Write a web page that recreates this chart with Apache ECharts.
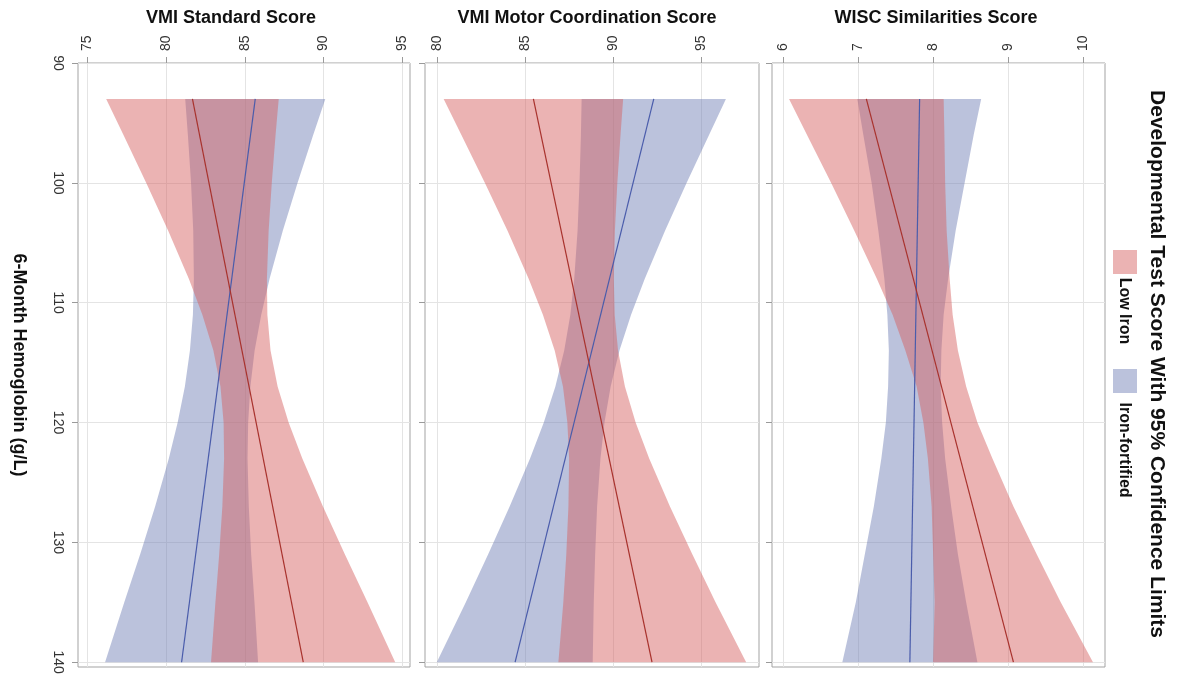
<!DOCTYPE html>
<html>
<head>
<meta charset="utf-8">
<script src="https://cdn.jsdelivr.net/npm/echarts@6/dist/echarts.min.js"></script>
<style>html,body{margin:0;padding:0;background:#fff}#c{width:1180px;height:675px}</style>
</head>
<body>
<div id="c"></div>
<script>
// ---------- data ----------
const hemoglobin = [93, 96, 100, 104, 108, 111, 114, 117, 120, 123, 127, 131, 135, 140];
const fitHb = [93, 140];
const hbTicks = [90, 100, 110, 120, 130, 140];
const panelTitles = ['VMI Standard Score', 'VMI Motor Coordination Score', 'WISC Similarities Score'];
const scoreTicks = [[75, 80, 85, 90, 95], [80, 85, 90, 95], [6, 7, 8, 9, 10]];
const groups = ['Low Iron', 'Iron-fortified'];
const legendTitle = 'Developmental Test Score With 95% Confidence Limits';
const hbAxisTitle = '6-Month Hemoglobin (g/L)';

// VMI Standard Score
const vmiStdLowLower  = [76.19, 77.29, 78.73, 80.13, 81.44, 82.30, 83.00, 83.45, 83.65, 83.68, 83.57, 83.37, 83.13, 82.85];
const vmiStdLowUpper  = [87.15, 86.95, 86.71, 86.51, 86.40, 86.43, 86.63, 87.08, 87.78, 88.65, 89.96, 91.35, 92.79, 94.55];
const vmiStdFortLower = [81.21, 81.38, 81.58, 81.72, 81.76, 81.70, 81.51, 81.19, 80.73, 80.17, 79.30, 78.35, 77.34, 76.12];
const vmiStdFortUpper = [90.11, 89.34, 88.35, 87.41, 86.57, 86.04, 85.62, 85.35, 85.21, 85.17, 85.25, 85.40, 85.61, 85.84];
const vmiStdLowFit = [81.67, 88.71];
const vmiStdFortFit = [85.66, 80.98];

// VMI Motor Coordination Score
const vmiMotLowLower  = [80.36, 81.37, 82.70, 83.99, 85.19, 86.00, 86.67, 87.14, 87.39, 87.49, 87.45, 87.33, 87.16, 86.88];
const vmiMotLowUpper  = [90.56, 90.41, 90.23, 90.09, 90.03, 90.08, 90.27, 90.66, 91.27, 92.04, 93.22, 94.49, 95.81, 97.55];
const vmiMotFortLower = [88.20, 88.16, 88.08, 87.97, 87.78, 87.56, 87.21, 86.71, 86.05, 85.27, 84.11, 82.89, 81.62, 79.97];
const vmiMotFortUpper = [96.40, 95.44, 94.17, 92.94, 91.79, 91.01, 90.35, 89.85, 89.50, 89.27, 89.08, 88.97, 88.89, 88.83];
const vmiMotLowFit = [85.46, 92.20];
const vmiMotFortFit = [92.30, 84.42];

// WISC Similarities Score
const wiscLowLower  = [6.08, 6.32, 6.64, 6.95, 7.25, 7.46, 7.63, 7.78, 7.87, 7.93, 7.98, 8.00, 8.02, 8.00];
const wiscLowUpper  = [8.14, 8.15, 8.16, 8.18, 8.22, 8.26, 8.33, 8.44, 8.59, 8.79, 9.07, 9.38, 9.70, 10.13];
const wiscFortLower = [6.99, 7.07, 7.18, 7.27, 7.35, 7.39, 7.41, 7.40, 7.37, 7.31, 7.21, 7.09, 6.97, 6.79];
const wiscFortUpper = [8.64, 8.54, 8.42, 8.30, 8.20, 8.14, 8.11, 8.10, 8.12, 8.16, 8.24, 8.33, 8.44, 8.59];
const wiscLowFit = [7.11, 9.07];
const wiscFortFit = [7.82, 7.69];

// ---------- layout / style ----------
const FONT = '"Liberation Sans", Arial, sans-serif';
const lowFill = 'rgba(214,96,96,0.48)';
const fortFill = 'rgba(113,128,182,0.48)';
const lowLine = '#a8322d';
const fortLine = '#4a5cab';
const grids = [
  {left: 78, top: 63, width: 332, height: 604},
  {left: 425, top: 63, width: 334, height: 604},
  {left: 772, top: 63, width: 333, height: 604}
];
const xRange = [[74.4, 95.49], [79.3, 98.28], [5.853, 10.29]];
const titleX = [231, 587, 936];

const panels = [
  {low: [vmiStdLowLower, vmiStdLowUpper], fort: [vmiStdFortLower, vmiStdFortUpper], lowFit: vmiStdLowFit, fortFit: vmiStdFortFit},
  {low: [vmiMotLowLower, vmiMotLowUpper], fort: [vmiMotFortLower, vmiMotFortUpper], lowFit: vmiMotLowFit, fortFit: vmiMotFortFit},
  {low: [wiscLowLower, wiscLowUpper], fort: [wiscFortLower, wiscFortUpper], lowFit: wiscLowFit, fortFit: wiscFortFit}
];

function band(gi, lower, upper, fill, name, z) {
  return {
    type: 'custom', name: name, xAxisIndex: gi, yAxisIndex: gi, z: z, silent: true,
    data: hemoglobin.map((h, i) => [lower[i], h, upper[i]]),
    encode: {x: [0, 2], y: 1},
    renderItem: function (params, api) {
      if (params.dataIndex !== 0) return null;
      const pts = [];
      for (let i = 0; i < hemoglobin.length; i++) pts.push(api.coord([lower[i], hemoglobin[i]]));
      for (let i = hemoglobin.length - 1; i >= 0; i--) pts.push(api.coord([upper[i], hemoglobin[i]]));
      return {type: 'polygon', shape: {points: pts}, style: {fill: fill, stroke: null}};
    }
  };
}
function fitLine(gi, fit, color, name) {
  return {
    type: 'line', name: name, xAxisIndex: gi, yAxisIndex: gi, z: 5, silent: true,
    symbol: 'none', animation: false,
    data: fitHb.map((h, i) => [fit[i], h]),
    lineStyle: {color: color, width: 1.2}
  };
}

const series = [];
panels.forEach((p, gi) => {
  series.push(band(gi, p.fort[0], p.fort[1], fortFill, groups[1], 2));
  series.push(band(gi, p.low[0], p.low[1], lowFill, groups[0], 3));
  series.push(fitLine(gi, p.fortFit, fortLine, groups[1]));
  series.push(fitLine(gi, p.lowFit, lowLine, groups[0]));
});

const graphic = [];
panelTitles.forEach((t, i) => {
  graphic.push({type: 'text', x: titleX[i], y: 18, style: {text: t, fontFamily: FONT, fontSize: 18, fontWeight: 'bold', fill: '#111', align: 'center', verticalAlign: 'middle'}});
});
graphic.push({type: 'text', x: 1157, y: 364, rotation: -Math.PI / 2, style: {text: legendTitle, fontFamily: FONT, fontSize: 21, fontWeight: 'bold', fill: '#111', align: 'center', verticalAlign: 'middle'}});
graphic.push({type: 'rect', x: 1113, y: 250, shape: {width: 24, height: 24}, style: {fill: lowFill}});
graphic.push({type: 'text', x: 1124, y: 311, rotation: -Math.PI / 2, style: {text: groups[0], fontFamily: FONT, fontSize: 16, fontWeight: 'bold', fill: '#111', align: 'center', verticalAlign: 'middle'}});
graphic.push({type: 'rect', x: 1113, y: 369, shape: {width: 24, height: 24}, style: {fill: fortFill}});
graphic.push({type: 'text', x: 1124, y: 450, rotation: -Math.PI / 2, style: {text: groups[1], fontFamily: FONT, fontSize: 16, fontWeight: 'bold', fill: '#111', align: 'center', verticalAlign: 'middle'}});

const option = {
  animation: false,
  backgroundColor: '#fff',
  grid: grids.map(g => Object.assign({show: true, borderColor: '#a3a3a3', borderWidth: 1, backgroundColor: 'transparent', containLabel: false, outerBoundsMode: 'none'}, g)),
  xAxis: [0, 1, 2].map(i => ({
    gridIndex: i, type: 'value', position: 'top', min: xRange[i][0], max: xRange[i][1],
    axisLine: {show: false},
    axisTick: {show: true, length: 6, lineStyle: {color: '#9a9a9a'}, customValues: scoreTicks[i]},
    axisLabel: {rotate: -90, customValues: scoreTicks[i], fontFamily: FONT, fontSize: 14, color: '#333', margin: 12},
    splitLine: {show: true, lineStyle: {color: '#e4e4e4', width: 1}}
  })),
  yAxis: [0, 1, 2].map(i => ({
    gridIndex: i, type: 'value', inverse: true, min: 90, max: 140.4,
    axisLine: {show: false},
    axisTick: {show: true, length: 6, lineStyle: {color: '#9a9a9a'}, customValues: hbTicks},
    axisLabel: {show: i === 0, rotate: -90, customValues: hbTicks, fontFamily: FONT, fontSize: 14, color: '#333', margin: 13},
    splitLine: {show: true, lineStyle: {color: '#e4e4e4', width: 1}},
    name: i === 0 ? hbAxisTitle : '', nameLocation: 'middle', nameRotate: -90, nameGap: 50,
    nameTextStyle: {fontFamily: FONT, fontSize: 18, fontWeight: 'bold', color: '#111'}
  })),
  series: series,
  graphic: graphic
};
echarts.init(document.getElementById('c'), null, {renderer: 'canvas'}).setOption(option);
</script>
</body>
</html>
